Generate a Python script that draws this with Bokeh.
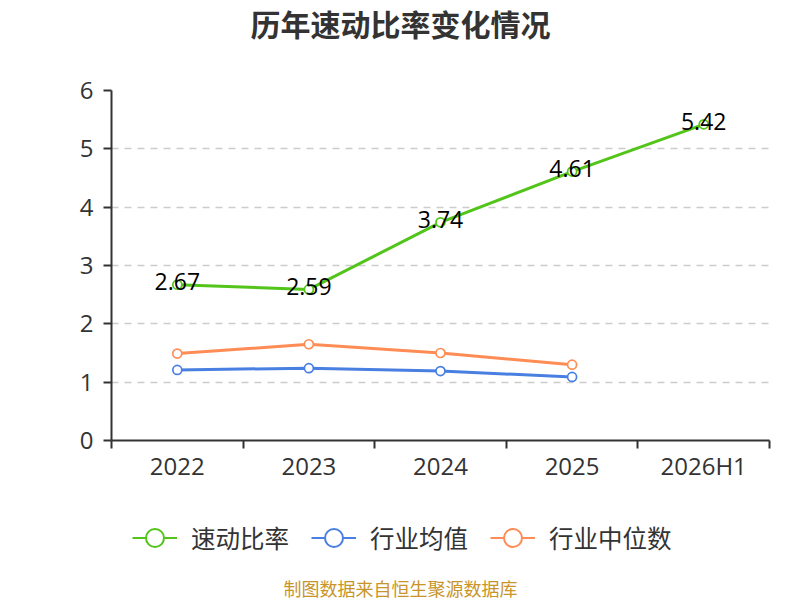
from bokeh.plotting import figure
from bokeh.layouts import column
from bokeh.models import Range1d, FixedTicker, Legend, LegendItem, ColumnDataSource, Label
from bokeh.core.properties import value
from bokeh.embed import file_html
from bokeh.resources import INLINE

years = ["2022", "2023", "2024", "2025", "2026H1"]
quick_ratio = [2.67, 2.59, 3.74, 4.61, 5.42]
industry_mean = [1.21, 1.24, 1.19, 1.09]
industry_median = [1.49, 1.65, 1.50, 1.30]
y_ticks = [0, 1, 2, 3, 4, 5, 6]
series_names = ["速动比率", "行业均值", "行业中位数"]
title_text = "历年速动比率变化情况"
source_text = "制图数据来自恒生聚源数据库"

GREEN = "#52c41a"
BLUE = "#4a7fe2"
ORANGE = "#ff8c55"
CJK = "Noto Sans CJK SC"
NUM = "Open Sans"
W = 800
LEFT, RIGHT = 111, 31


def strip(h):
    f = figure(width=W, height=h, output_backend="svg", toolbar_location=None,
               x_range=Range1d(LEFT, W - RIGHT), y_range=Range1d(0, h),
               x_axis_location=None, y_axis_location=None, title=None,
               min_border_left=LEFT, min_border_right=RIGHT, min_border_top=0,
               min_border_bottom=0, outline_line_color=None)
    f.grid.visible = False
    return f


# ---- title strip
p0 = strip(50)
p0.add_layout(Label(x=W / 2, y=28, text=title_text, text_align="center", text_baseline="middle",
                    text_font=CJK, text_font_size="30px", text_font_style="bold",
                    text_color="#333333"))

# ---- main plot
p = figure(width=W, height=438, output_backend="svg", toolbar_location=None, title=None,
           x_range=Range1d(0, len(years)), y_range=Range1d(y_ticks[0], y_ticks[-1]),
           min_border_left=LEFT, min_border_right=RIGHT, min_border_top=40, min_border_bottom=48,
           outline_line_color=None)

xa = p.xaxis[0]
centers = [i + 0.5 for i in range(len(years))]
xa.ticker = FixedTicker(ticks=centers, minor_ticks=list(range(len(years) + 1)))
xa.major_label_overrides = {c: y for c, y in zip(centers, years)}
xa.major_tick_line_color = None
xa.minor_tick_line_color = "#333333"
xa.minor_tick_line_width = 2
xa.minor_tick_out = 8
xa.minor_tick_in = 0
xa.axis_line_color = "#333333"
xa.axis_line_width = 2
xa.major_label_text_font = NUM
xa.major_label_text_font_size = "24px"
xa.major_label_text_color = "#333333"
xa.major_label_standoff = 0

ya = p.yaxis[0]
ya.ticker = FixedTicker(ticks=y_ticks, minor_ticks=[])
ya.major_tick_line_color = "#333333"
ya.major_tick_line_width = 2
ya.major_tick_out = 8
ya.major_tick_in = 0
ya.axis_line_color = "#333333"
ya.axis_line_width = 2
ya.major_label_text_font = NUM
ya.major_label_text_font_size = "24px"
ya.major_label_text_color = "#333333"
ya.major_label_standoff = 10

p.xgrid.visible = False
p.ygrid.grid_line_color = "#cccccc"
p.ygrid.grid_line_width = 1.5
p.ygrid.grid_line_dash = "7 6"

series = [
    (quick_ratio, GREEN),
    (industry_mean, BLUE),
    (industry_median, ORANGE),
]
for vals, col in [series[2], series[1], series[0]]:
    src = ColumnDataSource(dict(x=centers[:len(vals)], y=vals))
    p.line("x", "y", source=src, line_color=col, line_width=3)
    p.scatter("x", "y", source=src, size=9, marker="circle", fill_color="white",
              line_color=col, line_width=1.7)

lab_src = ColumnDataSource(dict(x=centers[:len(quick_ratio)], y=quick_ratio,
                                t=[f"{v:.2f}" for v in quick_ratio]))
p.text("x", "y", text="t", source=lab_src, text_align="center", text_baseline="middle",
       y_offset=-3, text_font=value(NUM), text_font_size="23px", text_color="black")

# ---- legend + source strip
p2 = strip(112)
items = []
for name, (vals, col) in zip(series_names, series):
    e = ColumnDataSource(dict(x=centers[:len(vals)], y=vals))
    lr = p2.line("x", "y", source=e, line_color=col, line_width=2, visible=False)
    sr = p2.scatter("x", "y", source=e, marker="circle", size=18, fill_color="white",
                    line_color=col, line_width=2, visible=False)
    items.append(LegendItem(label=name, renderers=[lr, sr]))

legend = Legend(items=items, orientation="horizontal", location=(21, 40),
                glyph_width=45, glyph_height=45, label_text_font=CJK,
                label_text_font_size="24.5px", label_text_color="#333333",
                label_standoff=14, spacing=22, padding=0, margin=0,
                border_line_color=None, background_fill_alpha=0,
                inactive_fill_alpha=0)
p2.add_layout(legend)
p2.add_layout(Label(x=W / 2, y=13, text=source_text, text_align="center", text_baseline="middle",
                    text_font=CJK, text_font_size="18px", text_color="#c8952a"))

layout = column(p0, p, p2, spacing=0)
open("out.html", "w").write(file_html(layout, INLINE))
